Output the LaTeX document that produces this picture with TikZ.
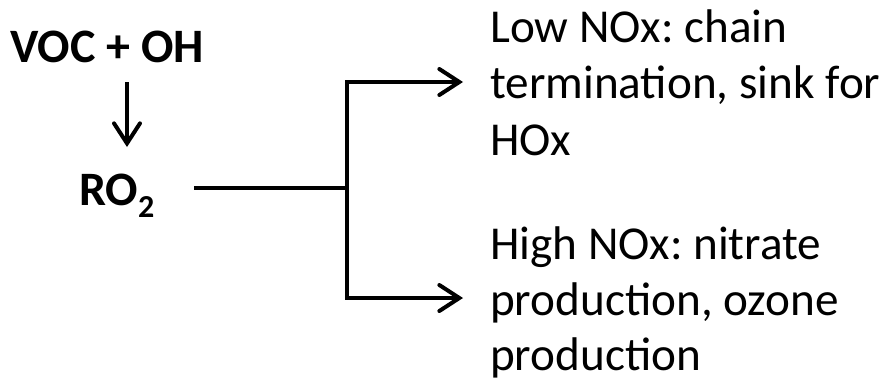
\documentclass[tikz,border=0pt]{standalone}
\usepackage{fontspec}
\setmainfont{Carlito}
\usetikzlibrary{arrows.meta}
\frenchspacing
\begin{document}
\begin{tikzpicture}[x=1pt,y=-1pt,
  txt/.style={inner sep=0pt,anchor=base west,font=\fontsize{47.2}{57}\selectfont},
  btxt/.style={inner sep=0pt,font=\fontsize{48}{57}\selectfont\bfseries},
  conn/.style={line width=4pt,line join=miter},
  arr/.style={conn,-{Straight Barb[length=20pt,width=26pt,line width=4pt,line cap=round]}}]
\useasboundingbox (0,0) rectangle (893,381);
% left side
\node[btxt,anchor=base] (voc) at (107,62) {VOC + OH};
\node[btxt,anchor=base west] (ro2) at (79,205) {RO{\fontsize{32}{32}\selectfont\raisebox{-12pt}{2}}};
\coordinate (vtop) at (127,82);
\coordinate (vtip) at (127,147);
\draw[arr] (vtop) -- (vtip);
% right text
\node[txt] (low1) at (490,42) {Low NOx: chain};
\node[txt] (low2) at (490,98) {termination, sink for};
\node[txt] (low3) at (490,155) {HOx};
\node[txt] (high1) at (490,259) {High NOx: nitrate};
\node[txt] (high2) at (490,315) {production, ozone};
\node[txt] (high3) at (490,370) {production};
% connectors
\coordinate (start) at (194,188);
\coordinate (j) at (347,188);
\coordinate (toptip) at (463,82);
\coordinate (bottip) at (463,298);
\draw[conn] (start) -- (j);
\draw[arr] (j) |- (toptip);
\draw[arr] (j) |- (bottip);
\end{tikzpicture}
\end{document}
